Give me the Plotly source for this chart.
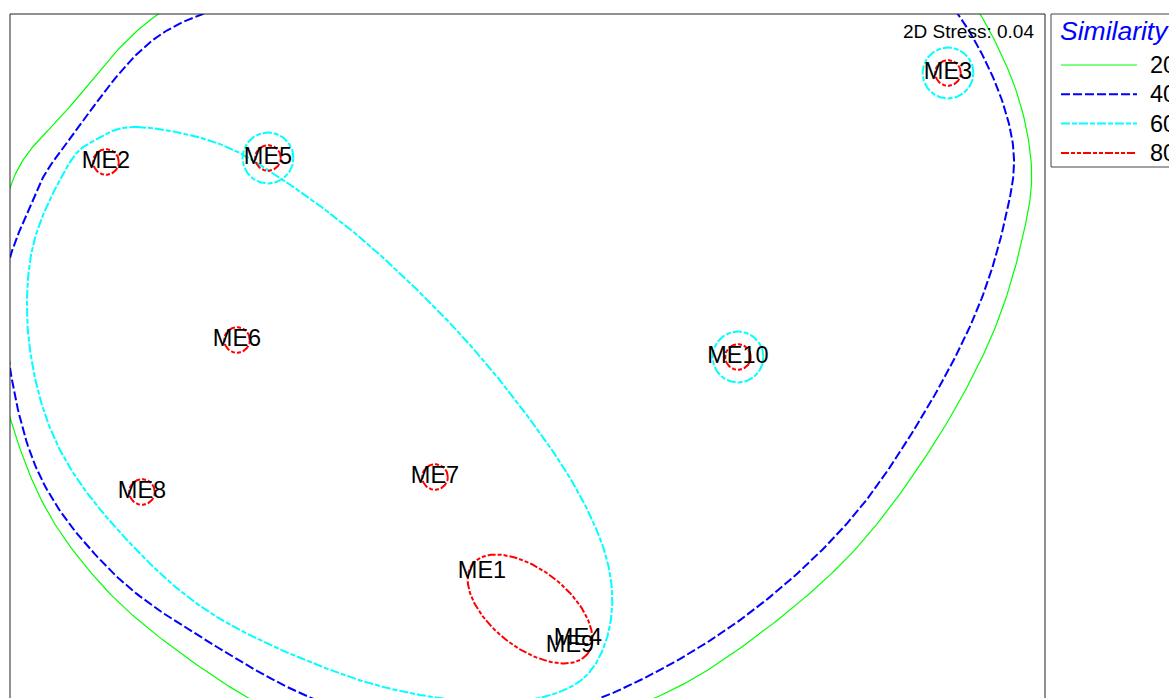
import numpy as np
import plotly.graph_objects as go

# ---- NMDS ordination of samples (2D, stress 0.04) ----
samples = ["ME1", "ME2", "ME3", "ME4", "ME5", "ME6", "ME7", "ME8", "ME9", "ME10"]
mds_x = [-0.23, -2.11, 2.10, 0.25, -1.30, -1.455, -0.465, -1.93, 0.21, 1.05]
mds_y = [-1.08, 0.97, 1.415, -1.415, 0.99, 0.08, -0.605, -0.68, -1.45, -0.005]
stress = 0.04

# ---- cluster similarity contours ----
levels = ["20", "40", "60", "80"]

# 80 % : singletons (circles) and the ME1/ME4/ME9 group (ellipse)
single_80 = ["ME2", "ME3", "ME5", "ME6", "ME7", "ME8", "ME10"]
group_80 = dict(cx=0.01, cy=-1.265, a=0.365, b=0.195, angle=-38)

# 60 % : singletons and the outline of the large group
single_60 = ["ME3", "ME5", "ME10"]
outline_60_x = [-1.955, -1.555, -1.225, -0.825, -0.405, -0.075, 0.225, 0.395, 0.41,
                0.285, 0.01, -0.34, -0.89, -1.555, -2.005, -2.34, -2.49, -2.48,
                -2.305, -2.165]
outline_60_y = [1.145, 1.065, 0.88, 0.58, 0.18, -0.205, -0.635, -1.02, -1.345,
                -1.605, -1.72, -1.725, -1.605, -1.305, -0.92, -0.47, 0.03, 0.53,
                0.945, 1.08]

# 40 % : all samples
outline_40_x = [0.61, 1.61, 2.035, 2.285, 2.425, 2.385, 2.235, 1.96, 1.61, 1.16,
                0.66, 0.16, -0.365, -0.99, -1.555, -2.09, -2.475, -2.62, -2.475,
                -2.305, -1.855, -1.24, -0.39]
outline_40_y = [2.105, 2.03, 1.83, 1.48, 1.055, 0.68, 0.205, -0.32, -0.82, -1.245,
                -1.57, -1.78, -1.86, -1.745, -1.455, -1.07, -0.52, 0.28, 0.78,
                1.065, 1.595, 1.82, 2.03]

# 20 % : all samples
outline_20_x = [0.61, 1.66, 2.11, 2.395, 2.515, 2.47, 2.31, 2.01, 1.61, 1.11, 0.645,
                0.06, -0.54, -1.14, -1.64, -2.14, -2.49, -2.70, -2.58, -2.305,
                -1.855, -1.24, -0.39]
outline_20_y = [2.255, 2.155, 1.905, 1.445, 0.98, 0.58, 0.08, -0.47, -0.995, -1.425,
                -1.705, -1.895, -1.945, -1.83, -1.555, -1.135, -0.595, 0.23, 0.87,
                1.23, 1.705, 1.955, 2.18]

# ---- styles ----
STYLE = {
    "20": dict(color="#00FF00", width=1.2, dash="solid"),
    "40": dict(color="#0000FF", width=2, dash="9px,3px"),
    "60": dict(color="#00FFFF", width=2, dash="9px,2px,5px,2px"),
    "80": dict(color="#FF0000", width=2, dash="8px,2px,4px,2px,4px,2px"),
}
R80 = 0.064   # circle radius around single samples at 80 %
R60 = 0.127   # circle radius around single samples at 60 %
FONT = "Liberation Sans, Arial, sans-serif"

pos = {s: (x, y) for s, x, y in zip(samples, mds_x, mds_y)}


def closed_curve(xs, ys, n=30):
    """Periodic Catmull-Rom spline through the outline vertices."""
    p = np.column_stack([xs, ys]).astype(float)
    m = len(p)
    t = np.linspace(0, 1, n, endpoint=False)[:, None]
    parts = []
    for i in range(m):
        p0, p1, p2, p3 = p[i - 1], p[i], p[(i + 1) % m], p[(i + 2) % m]
        seg = 0.5 * (2 * p1 + (-p0 + p2) * t
                     + (2 * p0 - 5 * p1 + 4 * p2 - p3) * t ** 2
                     + (-p0 + 3 * p1 - 3 * p2 + p3) * t ** 3)
        parts.append(seg)
    parts.append(p[:1])
    c = np.vstack(parts)
    return c[:, 0], c[:, 1]


def circle(cx, cy, r, n=120):
    t = np.linspace(0, 2 * np.pi, n)
    return cx + r * np.cos(t), cy + r * np.sin(t)


def ellipse(cx, cy, a, b, angle, n=160):
    t = np.linspace(0, 2 * np.pi, n)
    th = np.deg2rad(angle)
    ex, ey = a * np.cos(t), b * np.sin(t)
    return cx + ex * np.cos(th) - ey * np.sin(th), cy + ex * np.sin(th) + ey * np.cos(th)


fig = go.Figure()


def add_line(x, y, level):
    st = STYLE[level]
    fig.add_trace(go.Scatter(
        x=x, y=y, mode="lines", name=level, showlegend=False, hoverinfo="skip",
        line=dict(color=st["color"], width=st["width"], dash=st["dash"]),
    ))


add_line(*closed_curve(outline_20_x, outline_20_y), "20")
add_line(*closed_curve(outline_40_x, outline_40_y), "40")
add_line(*closed_curve(outline_60_x, outline_60_y), "60")
for s in single_60:
    add_line(*circle(*pos[s], R60), "60")
add_line(*ellipse(**group_80), "80")
for s in single_80:
    add_line(*circle(*pos[s], R80), "80")

# sample labels
fig.add_trace(go.Scatter(
    x=mds_x, y=mds_y, text=samples, mode="text", textposition="middle center",
    textfont=dict(family=FONT, size=23.5, color="black"), showlegend=False,
    cliponaxis=False,
))

# ---- layout ----
W, H = 1169, 698
ML, MR, MT, MB = 10, 124, 14, 0


def xp(px):
    return (px - ML) / (W - ML - MR)


def yp(py):
    return (H - MB - py) / (H - MT - MB)


shapes = [
    # plot frame (lower edge runs below the page)
    dict(type="rect", xref="paper", yref="paper", x0=0, x1=1, y0=-0.05, y1=1,
         line=dict(color="#222222", width=1), layer="above"),
    # legend box
    dict(type="rect", xref="paper", yref="paper", x0=xp(1051), x1=xp(1185),
         y0=yp(167), y1=yp(14), line=dict(color="#444444", width=1),
         fillcolor="white", layer="above"),
]
annotations = [
    dict(text=f"2D Stress: {stress:.2f}", xref="paper", yref="paper",
         x=xp(1036), y=yp(31), xanchor="right", yanchor="middle", showarrow=False,
         font=dict(family=FONT, size=19, color="black")),
    dict(text="<i>Similarity</i>", xref="paper", yref="paper",
         x=xp(1058), y=yp(31), xanchor="left", yanchor="middle", showarrow=False,
         font=dict(family=FONT, size=26.5, color="#0000FF")),
]
for i, lev in enumerate(levels):
    row = 65 + i * 29.3
    st = STYLE[lev]
    shapes.append(dict(type="line", xref="paper", yref="paper",
                       x0=xp(1061), x1=xp(1137), y0=yp(row), y1=yp(row),
                       line=dict(color=st["color"], width=st["width"], dash=st["dash"]),
                       layer="above"))
    annotations.append(dict(text=lev, xref="paper", yref="paper",
                            x=xp(1148), y=yp(row), xanchor="left", yanchor="middle",
                            showarrow=False,
                            font=dict(family=FONT, size=23.5, color="black")))

fig.update_layout(
    width=W, height=H,
    margin=dict(l=ML, r=MR, t=MT, b=MB, autoexpand=False),
    paper_bgcolor="white", plot_bgcolor="white",
    xaxis=dict(range=[-2.59, 2.585], visible=False, fixedrange=True),
    yaxis=dict(range=[-1.71, 1.71], visible=False, fixedrange=True),
    shapes=shapes, annotations=annotations,
    showlegend=False,
)

fig.write_html("out.html")
